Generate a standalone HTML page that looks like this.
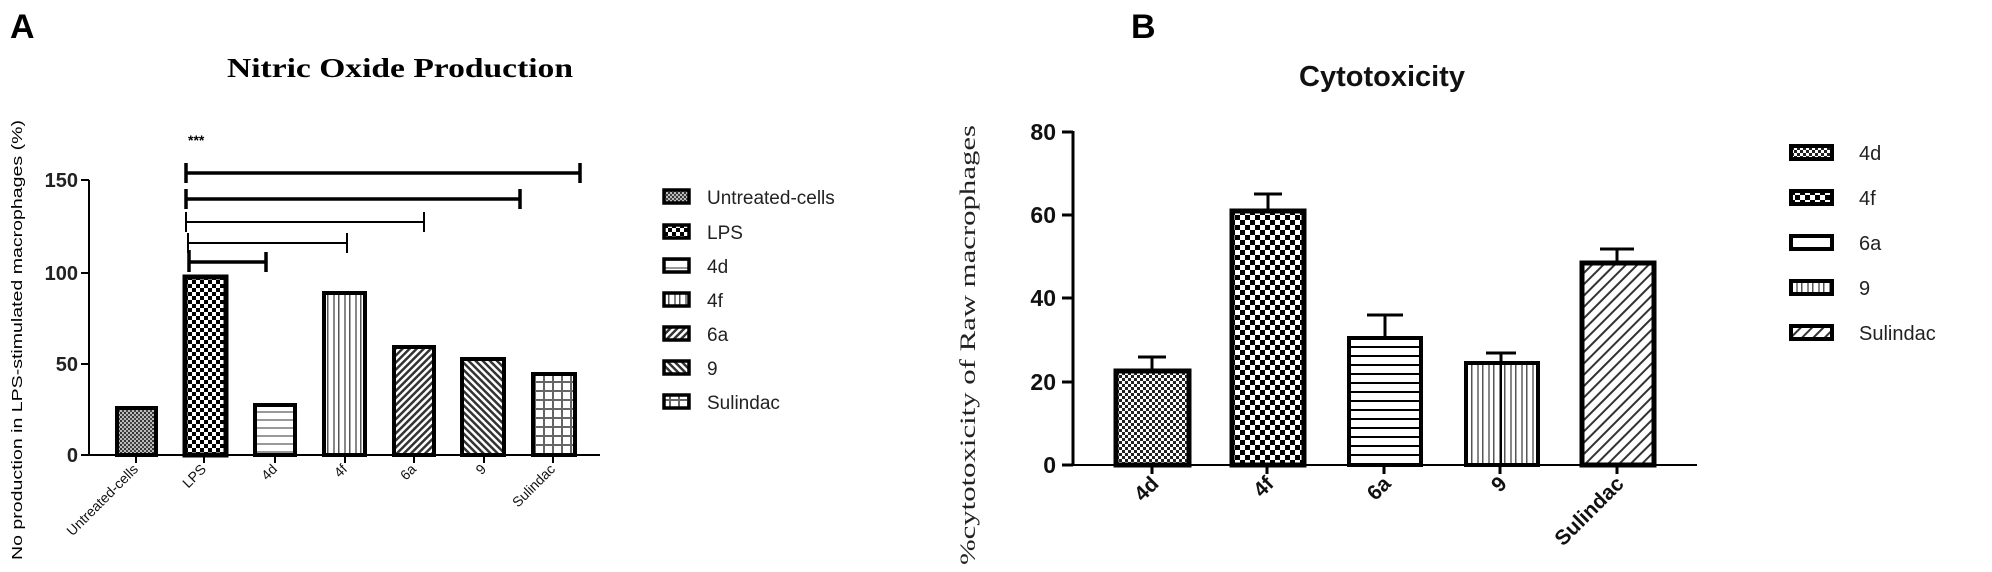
<!DOCTYPE html>
<html><head><meta charset="utf-8"><style>html,body{margin:0;padding:0;background:#fff}svg{display:block}</style></head><body>
<svg width="1992" height="572" viewBox="0 0 1992 572" xmlns="http://www.w3.org/2000/svg" font-family="Liberation Sans, sans-serif">
<defs>
<pattern id="dotg" width="4" height="4" patternUnits="userSpaceOnUse"><rect width="4" height="4" fill="#bbb"/><rect width="2" height="2" fill="#333"/><rect x="2" y="2" width="2" height="2" fill="#444"/></pattern>
<pattern id="dotw" width="6" height="6" patternUnits="userSpaceOnUse"><rect width="6" height="6" fill="#fff"/><rect width="3" height="3" fill="#222"/><rect x="3" y="3" width="3" height="3" fill="#222"/></pattern>
<pattern id="chk" width="10" height="10" patternUnits="userSpaceOnUse"><rect width="10" height="10" fill="#fff"/><rect width="5" height="5" fill="#000"/><rect x="5" y="5" width="5" height="5" fill="#000"/></pattern>
<pattern id="chkA" width="8" height="8" patternUnits="userSpaceOnUse"><rect width="8" height="8" fill="#fff"/><rect width="4" height="4" fill="#000"/><rect x="4" y="4" width="4" height="4" fill="#000"/></pattern>
<pattern id="hlg" width="8" height="8" patternUnits="userSpaceOnUse"><rect width="8" height="8" fill="#fff"/><rect y="3" width="8" height="2" fill="#999"/></pattern>
<pattern id="hlb" width="10" height="9" patternUnits="userSpaceOnUse"><rect width="10" height="9" fill="#fff"/><rect y="4" width="10" height="2" fill="#000"/></pattern>
<pattern id="vl" width="11" height="10" patternUnits="userSpaceOnUse"><rect width="11" height="10" fill="#fff"/><rect x="3" width="2" height="10" fill="#888"/><rect x="8" width="1.5" height="10" fill="#555"/></pattern>
<pattern id="d1" width="5" height="5" patternUnits="userSpaceOnUse" patternTransform="rotate(45)"><rect width="5" height="5" fill="#fff"/><rect width="2.5" height="5" fill="#333"/></pattern>
<pattern id="d2" width="5" height="5" patternUnits="userSpaceOnUse" patternTransform="rotate(-45)"><rect width="5" height="5" fill="#fff"/><rect width="2.5" height="5" fill="#333"/></pattern>
<pattern id="d3" width="8" height="8" patternUnits="userSpaceOnUse" patternTransform="rotate(45)"><rect width="8" height="8" fill="#fff"/><rect width="2" height="8" fill="#333"/></pattern>
<pattern id="grd" width="9" height="9" patternUnits="userSpaceOnUse"><rect width="9" height="9" fill="#fff"/><rect x="3" width="2" height="9" fill="#666"/><rect y="3" width="9" height="2" fill="#666"/></pattern>
</defs>

<!-- Panel A -->
<text x="10" y="38" font-size="34" font-weight="bold">A</text>
<text x="227" y="77" font-family="Liberation Serif, serif" font-size="27" font-weight="bold" textLength="346" lengthAdjust="spacingAndGlyphs">Nitric Oxide Production</text>
<text transform="translate(22,340) rotate(-90)" text-anchor="middle" font-size="15" textLength="440" lengthAdjust="spacingAndGlyphs">No production in LPS-stimulated macrophages (%)</text>
<g stroke="#000" stroke-width="2">
<line x1="89" y1="180" x2="89" y2="455"/><line x1="88" y1="455" x2="600" y2="455"/>
<line x1="81" y1="180" x2="89" y2="180"/><line x1="81" y1="273" x2="89" y2="273"/><line x1="81" y1="364" x2="89" y2="364"/><line x1="81" y1="455" x2="89" y2="455"/>
<line x1="136" y1="455" x2="136" y2="463"/><line x1="204" y1="455" x2="204" y2="463"/><line x1="275" y1="455" x2="275" y2="463"/><line x1="345" y1="455" x2="345" y2="463"/><line x1="414" y1="455" x2="414" y2="463"/><line x1="484" y1="455" x2="484" y2="463"/><line x1="553" y1="455" x2="553" y2="463"/>
</g>
<g font-size="20" text-anchor="end" font-weight="bold" fill="#222">
<text x="78" y="187">150</text><text x="78" y="280">100</text><text x="78" y="371">50</text><text x="78" y="462">0</text>
</g>
<g stroke="#000" stroke-width="4">
<rect x="117" y="408" width="39" height="47" fill="url(#dotg)"/>
<rect x="185" y="277" width="41" height="178" fill="url(#chkA)" stroke-width="5"/>
<rect x="255" y="405" width="40" height="50" fill="url(#hlg)"/>
<rect x="324" y="293" width="41" height="162" fill="url(#vl)"/>
<rect x="394" y="347" width="40" height="108" fill="url(#d1)"/>
<rect x="462" y="359" width="42" height="96" fill="url(#d2)"/>
<rect x="533" y="374" width="42" height="81" fill="url(#grd)"/>
</g>
<g stroke="#000" fill="none">
<path d="M186 173H580M186 163V183M580 163V183" stroke-width="3.5"/>
<path d="M186 199H520M186 189V209M520 189V209" stroke-width="3.5"/>
<path d="M186 222H424M186 212V232M424 212V232" stroke-width="2"/>
<path d="M188 243H347M188 233V253M347 233V253" stroke-width="2"/>
<path d="M189 262H266M189 250V272M266 252V272" stroke-width="3.5"/>
</g>
<text x="188" y="145" font-size="14" font-weight="bold">***</text>
<g font-size="14" text-anchor="end" fill="#111">
<text transform="translate(139,470) rotate(-45)">Untreated-cells</text>
<text transform="translate(207,470) rotate(-45)">LPS</text>
<text transform="translate(278,470) rotate(-45)">4d</text>
<text transform="translate(348,470) rotate(-45)">4f</text>
<text transform="translate(417,470) rotate(-45)">6a</text>
<text transform="translate(487,470) rotate(-45)">9</text>
<text transform="translate(556,470) rotate(-45)">Sulindac</text>
</g>
<g stroke="#000" stroke-width="3.5">
<rect x="664" y="190" width="25" height="13" fill="url(#dotg)"/>
<rect x="664" y="225" width="25" height="13" fill="url(#chkA)"/>
<rect x="664" y="259" width="25" height="13" fill="url(#hlg)"/>
<rect x="664" y="293" width="25" height="13" fill="url(#vl)"/>
<rect x="664" y="327" width="25" height="13" fill="url(#d1)"/>
<rect x="664" y="361" width="25" height="13" fill="url(#d2)"/>
<rect x="664" y="395" width="25" height="13" fill="url(#grd)"/>
</g>
<g font-size="19" fill="#222">
<text x="707" y="204">Untreated-cells</text><text x="707" y="239">LPS</text><text x="707" y="273">4d</text><text x="707" y="307">4f</text><text x="707" y="341">6a</text><text x="707" y="375">9</text><text x="707" y="409">Sulindac</text>
</g>

<!-- Panel B -->
<text x="1131" y="38" font-size="34" font-weight="bold">B</text>
<text x="1382" y="86" text-anchor="middle" font-size="29" font-weight="bold" fill="#111">Cytotoxicity</text>
<text transform="translate(975,345) rotate(-90)" text-anchor="middle" font-family="Liberation Serif, serif" font-size="22" fill="#222" textLength="440" lengthAdjust="spacingAndGlyphs">%cytotoxicity of Raw macrophages</text>
<g stroke="#000" stroke-width="3">
<line x1="1073" y1="131" x2="1073" y2="466"/><line x1="1062" y1="132" x2="1073" y2="132"/><line x1="1062" y1="215" x2="1073" y2="215"/><line x1="1062" y1="298" x2="1073" y2="298"/><line x1="1062" y1="382" x2="1073" y2="382"/><line x1="1062" y1="465" x2="1073" y2="465"/>
<line x1="1152" y1="465" x2="1152" y2="474"/><line x1="1267" y1="465" x2="1267" y2="474"/><line x1="1384" y1="465" x2="1384" y2="474"/><line x1="1500" y1="465" x2="1500" y2="474"/><line x1="1617" y1="465" x2="1617" y2="474"/>
</g>
<line x1="1062" y1="465" x2="1697" y2="465" stroke="#000" stroke-width="2"/>
<g font-size="23" font-weight="bold" text-anchor="end" fill="#111">
<text x="1056" y="140">80</text><text x="1056" y="223">60</text><text x="1056" y="306">40</text><text x="1056" y="390">20</text><text x="1056" y="473">0</text>
</g>
<g stroke="#000" stroke-width="3">
<path d="M1152 369V357M1138 357H1166"/>
<path d="M1268 209V194M1254 194H1282"/>
<path d="M1385 336V315M1367 315H1403"/>
<path d="M1501 361V353M1486 353H1516"/>
<path d="M1617 261V249M1600 249H1634"/>
</g>
<g stroke="#000" stroke-width="5">
<rect x="1116" y="371" width="73" height="94" fill="url(#dotw)"/>
<rect x="1232" y="211" width="72" height="254" fill="url(#chk)"/>
<rect x="1349" y="338" width="72" height="127" fill="url(#hlb)" stroke-width="4"/>
<rect x="1466" y="363" width="72" height="102" fill="url(#vl)" stroke-width="4"/>
<rect x="1582" y="263" width="72" height="202" fill="url(#d3)"/>
</g>
<line x1="1501" y1="363" x2="1501" y2="465" stroke="#000" stroke-width="2"/>
<g font-size="21" font-weight="bold" text-anchor="end" fill="#111">
<text transform="translate(1160,485) rotate(-45)">4d</text>
<text transform="translate(1275,485) rotate(-45)">4f</text>
<text transform="translate(1392,485) rotate(-45)">6a</text>
<text transform="translate(1508,485) rotate(-45)">9</text>
<text transform="translate(1625,485) rotate(-45)">Sulindac</text>
</g>
<g stroke="#000" stroke-width="4">
<rect x="1791" y="146" width="41" height="13" fill="url(#dotw)"/>
<rect x="1791" y="191" width="41" height="13" fill="url(#chk)"/>
<rect x="1791" y="236" width="41" height="13" fill="#fff"/>
<rect x="1791" y="281" width="41" height="13" fill="url(#vl)"/>
<rect x="1791" y="326" width="41" height="13" fill="url(#d3)"/>
</g>
<g font-size="20" fill="#222">
<text x="1859" y="160">4d</text><text x="1859" y="205">4f</text><text x="1859" y="250">6a</text><text x="1859" y="295">9</text><text x="1859" y="340">Sulindac</text>
</g>
</svg>
</body></html>
